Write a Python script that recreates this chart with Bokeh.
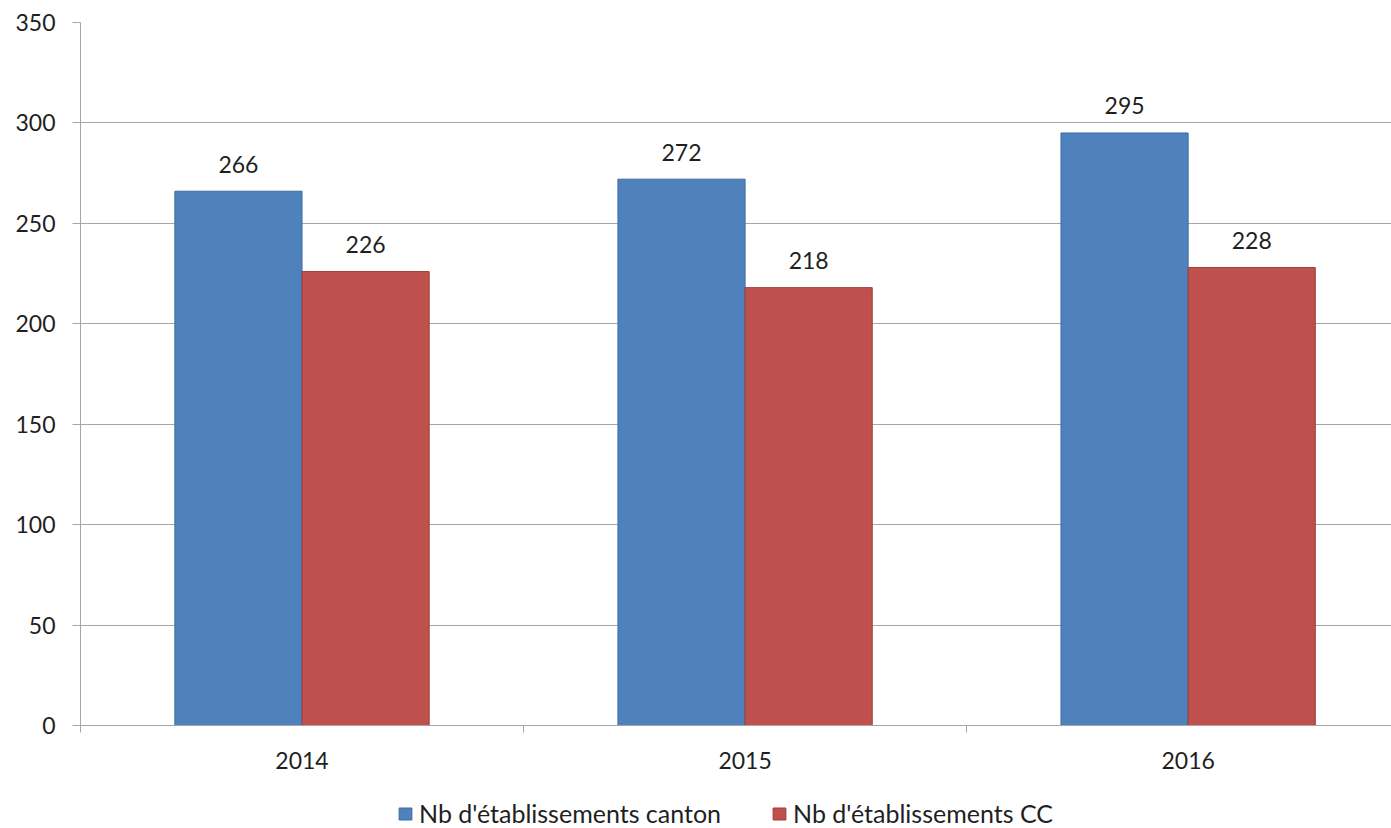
from bokeh.plotting import figure
from bokeh.layouts import column
from bokeh.models import Range1d, FixedTicker, Legend, LegendItem, ColumnDataSource
from bokeh.core.properties import value
from bokeh.embed import file_html
from bokeh.resources import INLINE

# ---- data ----
years = ["2014", "2015", "2016"]
canton = [266, 272, 295]
cc = [226, 218, 228]
y_ticks = [0, 50, 100, 150, 200, 250, 300, 350]
series_names = ["Nb d'établissements canton", "Nb d'établissements CC"]

FONT = "Lato"
TXT = "#1f1f1f"
GRID = "#A6A6A6"
BLUE, BLUE_EDGE = "#4F81BD", "#3D6CA3"
RED, RED_EDGE = "#C0504D", "#9E3D3A"

centers = [i + 0.5 for i in range(len(years))]
bar_w = 0.287
boundaries = list(range(len(years) + 1))

src = ColumnDataSource(dict(
    xb=[c - bar_w / 2 for c in centers],
    xr=[c + bar_w / 2 for c in centers],
    canton=canton,
    cc=cc,
    lb=[str(v) for v in canton],
    lr=[str(v) for v in cc],
))

p = figure(frame_width=1311, frame_height=703,
           x_range=Range1d(0, 2.959), y_range=Range1d(0, 350),
           output_backend="svg", toolbar_location=None,
           min_border_left=80, min_border_top=22, min_border_right=0,
           min_border_bottom=55)
p.outline_line_color = None
p.background_fill_color = "white"
p.border_fill_color = "white"

p.xgrid.visible = False
p.ygrid.ticker = FixedTicker(ticks=y_ticks)
p.ygrid.grid_line_color = GRID
p.ygrid.grid_line_width = 1

# y axis
p.yaxis.ticker = FixedTicker(ticks=y_ticks)
p.yaxis.axis_line_color = GRID
p.yaxis.major_tick_line_color = GRID
p.yaxis.major_tick_in = 0
p.yaxis.major_tick_out = 8
p.yaxis.minor_tick_line_color = None
p.yaxis.major_label_text_font = FONT
p.yaxis.major_label_text_font_size = "23px"
p.yaxis.major_label_text_color = TXT
p.yaxis.major_label_standoff = 17

# x axis: labels at category centres, tick marks at category boundaries
p.xaxis.ticker = FixedTicker(ticks=centers, minor_ticks=boundaries)
p.xaxis.major_label_overrides = {c: y for c, y in zip(centers, years)}
p.xaxis.axis_line_color = GRID
p.xaxis.major_tick_line_color = None
p.xaxis.minor_tick_line_color = GRID
p.xaxis.minor_tick_in = 0
p.xaxis.minor_tick_out = 7
p.xaxis.major_label_text_font = FONT
p.xaxis.major_label_text_font_size = "23px"
p.xaxis.major_label_text_color = TXT
p.xaxis.major_label_standoff = 19

r1 = p.vbar(x="xb", top="canton", bottom=0, width=bar_w, source=src,
            fill_color=BLUE, line_color=BLUE_EDGE, line_width=1)
r2 = p.vbar(x="xr", top="cc", bottom=0, width=bar_w, source=src,
            fill_color=RED, line_color=RED_EDGE, line_width=1)

for xcol, ycol, tcol in (("xb", "canton", "lb"), ("xr", "cc", "lr")):
    p.text(x=xcol, y=ycol, text=tcol, source=src,
           text_align="center", text_baseline="alphabetic", y_offset=-27,
           text_font=value(FONT), text_font_size=value("23px"), text_color=TXT)

# ---- legend strip below the chart (hidden proxy renderers) ----
lf = figure(width=1391, height=48, x_range=Range1d(0, 1), y_range=Range1d(0, 1),
            output_backend="svg", toolbar_location=None, min_border=0,
            x_axis_location=None, y_axis_location=None)
lf.grid.visible = False
lf.outline_line_color = None
lb = lf.vbar(x="xb", top="canton", bottom=0, width=bar_w, source=src,
             fill_color=BLUE, line_color=BLUE_EDGE, visible=False)
lr = lf.vbar(x="xr", top="cc", bottom=0, width=bar_w, source=src,
             fill_color=RED, line_color=RED_EDGE, visible=False)

legend = Legend(items=[LegendItem(label=series_names[0], renderers=[lb]),
                       LegendItem(label=series_names[1], renderers=[lr])],
                orientation="horizontal", location=(317, 0),
                label_text_font=FONT, label_text_font_size="25px",
                label_text_color=TXT,
                glyph_width=16, glyph_height=15, label_standoff=6,
                spacing=50, padding=0, margin=0,
                border_line_color=None, background_fill_alpha=0)
lf.add_layout(legend, "center")

layout = column(p, lf, spacing=0)
open("out.html", "w").write(file_html(layout, INLINE))
